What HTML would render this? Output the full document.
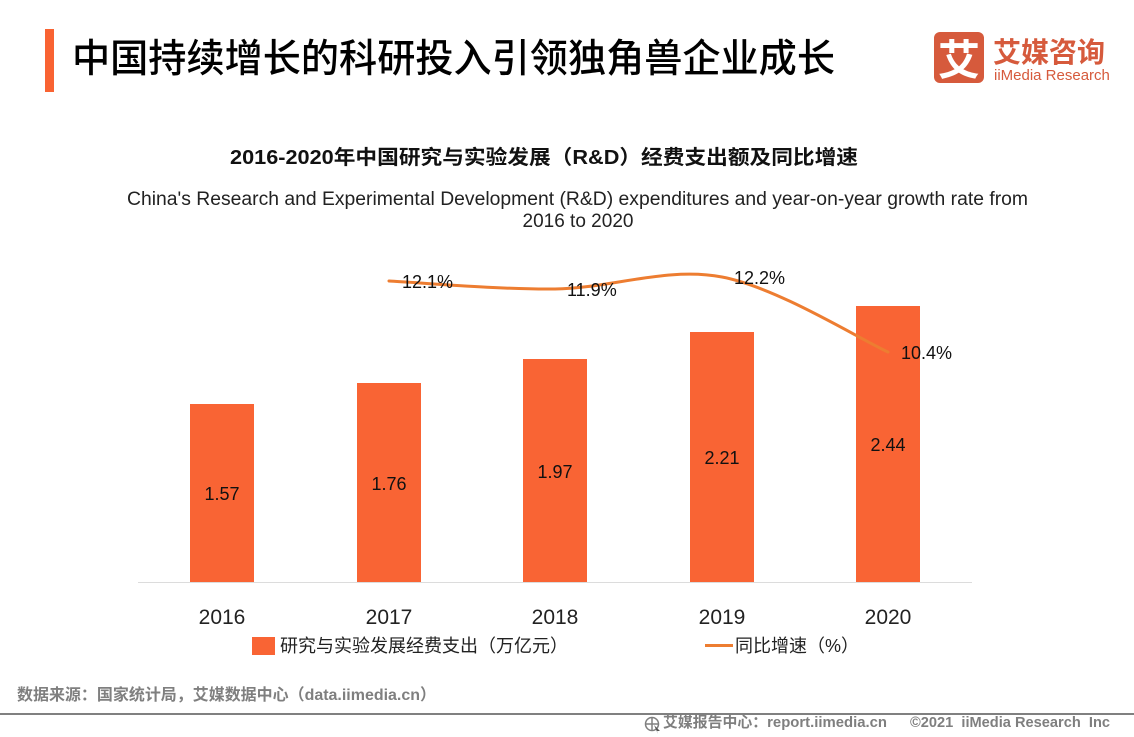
<!DOCTYPE html>
<html>
<head>
<meta charset="utf-8">
<style>
html,body{margin:0;padding:0;background:#fff;}
svg{display:block;}
text{font-family:"Liberation Sans","Noto Sans CJK SC",sans-serif;}
</style>
</head>
<body>
<svg width="1134" height="737" viewBox="0 0 1134 737" xmlns="http://www.w3.org/2000/svg">
  <rect width="1134" height="737" fill="#fff"/>
  <!-- header -->
  <rect x="45" y="29" width="9" height="63" fill="#F96332"/>
  <text x="72" y="72" font-size="39" font-weight="500" fill="#000" textLength="763" lengthAdjust="spacingAndGlyphs">中国持续增长的科研投入引领独角兽企业成长</text>
  <!-- logo -->
  <rect x="934" y="32" width="50" height="51" rx="6" fill="#D65A3C"/>
  <text x="959" y="75" font-size="42" font-weight="bold" fill="#fff" text-anchor="middle">艾</text>
  <text x="993" y="62" font-size="28" font-weight="bold" fill="#D65A3C">艾媒咨询</text>
  <text x="994" y="80" font-size="15" fill="#D65A3C">iiMedia Research</text>

  <!-- chart titles -->
  <text x="230" y="164" font-size="20" font-weight="bold" fill="#111" textLength="628" lengthAdjust="spacingAndGlyphs">2016-2020年中国研究与实验发展（R&amp;D）经费支出额及同比增速</text>
  <text x="127" y="205" font-size="19" fill="#222" textLength="901" lengthAdjust="spacingAndGlyphs">China's Research  and Experimental Development (R&amp;D) expenditures and year-on-year growth rate from</text>
  <text x="578" y="227" font-size="19" fill="#222" text-anchor="middle">2016 to 2020</text>

  <!-- baseline -->
  <line x1="138" y1="582.5" x2="972" y2="582.5" stroke="#dcdcdc" stroke-width="1"/>

  <!-- bars -->
  <g fill="#F96434">
    <rect x="190" y="404" width="64" height="178"/>
    <rect x="357" y="383" width="64" height="199"/>
    <rect x="523" y="359" width="64" height="223"/>
    <rect x="690" y="332" width="64" height="250"/>
    <rect x="856" y="306" width="64" height="276"/>
  </g>
  <g font-size="18" fill="#111" text-anchor="middle">
    <text x="222" y="500">1.57</text>
    <text x="389" y="490">1.76</text>
    <text x="555" y="478">1.97</text>
    <text x="722" y="464">2.21</text>
    <text x="888" y="451">2.44</text>
  </g>

  <!-- line -->
  <path d="M389,281 C416.7,282.3 499.5,289.7 555,289 C610.5,288.3 666.5,266.5 722,277 C777.5,287.5 860.3,339.5 888,352" fill="none" stroke="#ED7D31" stroke-width="3" stroke-linecap="round"/>
  <g font-size="18" fill="#111">
    <text x="402" y="288">12.1%</text>
    <text x="567" y="296">11.9%</text>
    <text x="734" y="284">12.2%</text>
    <text x="901" y="359">10.4%</text>
  </g>

  <!-- x labels -->
  <g font-size="21" fill="#222" text-anchor="middle">
    <text x="222" y="624">2016</text>
    <text x="389" y="624">2017</text>
    <text x="555" y="624">2018</text>
    <text x="722" y="624">2019</text>
    <text x="888" y="624">2020</text>
  </g>

  <!-- legend -->
  <rect x="252" y="637" width="23" height="18" fill="#F96434"/>
  <text x="280" y="652" font-size="18" fill="#222">研究与实验发展经费支出（万亿元）</text>
  <line x1="705" y1="645.5" x2="733" y2="645.5" stroke="#ED7D31" stroke-width="3"/>
  <text x="735" y="652" font-size="18" fill="#222">同比增速（%）</text>

  <!-- footer -->
  <text x="17" y="700" font-size="16" font-weight="bold" fill="#7f7f7f" textLength="419" lengthAdjust="spacingAndGlyphs">数据来源：国家统计局，艾媒数据中心（data.iimedia.cn）</text>
  <rect x="0" y="713" width="1134" height="2" fill="#808080"/>
  <g fill="none" stroke="#7f7f7f" stroke-width="1.5">
    <circle cx="652" cy="724" r="6.5"/>
    <line x1="645.5" y1="724" x2="658.5" y2="724"/>
    <line x1="652" y1="717.5" x2="652" y2="730.5"/>
  </g>
  <path d="M654,725 L660,731 L657,731 L658,734 Z" fill="#555"/>
  <text x="663" y="727" font-size="15" font-weight="bold" fill="#7f7f7f" textLength="224" lengthAdjust="spacingAndGlyphs">艾媒报告中心：report.iimedia.cn</text>
  <text x="910" y="727" font-size="15" font-weight="bold" fill="#7f7f7f" xml:space="preserve" textLength="200" lengthAdjust="spacingAndGlyphs">©2021  iiMedia Research  Inc</text>
</svg>
</body>
</html>
